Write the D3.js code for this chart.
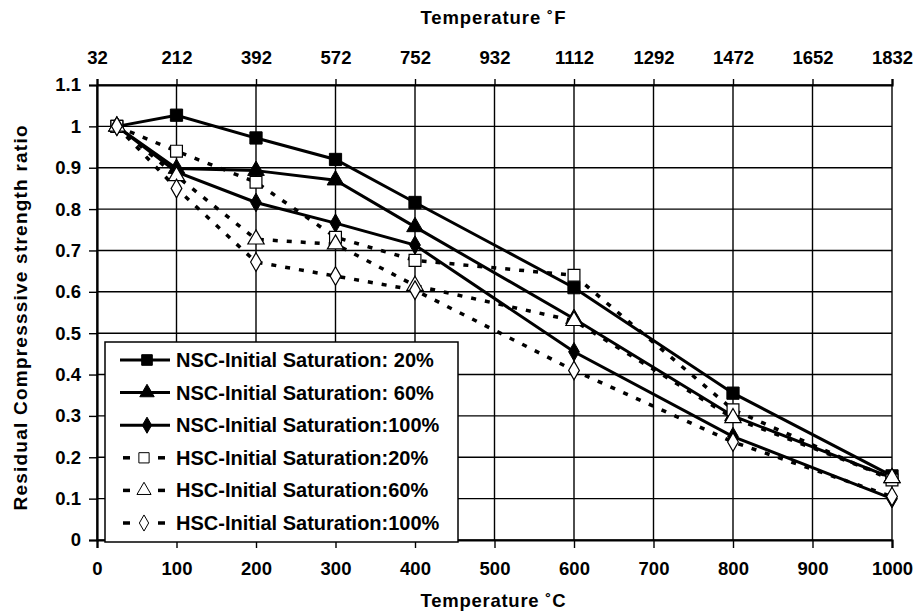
<html>
<head>
<title>Residual compressive strength</title>
<script src="https://d3js.org/d3.v7.min.js"></script>
<style>
  body { margin: 0; background: #fff; }
  text { font-family: "Liberation Sans", Arial, sans-serif; font-weight: bold; fill: #000; }
</style>
</head>
<body>
<div id="container"></div>
<script>
var temps = [25, 100, 200, 300, 400, 600, 800, 1000];
var nsc20  = [1.0, 1.027, 0.972, 0.92, 0.816, 0.61, 0.355, 0.155];
var nsc60  = [1.0, 0.898, 0.893, 0.87, 0.757, 0.535, 0.30, 0.15];
var nsc100 = [1.0, 0.89, 0.816, 0.766, 0.713, 0.455, 0.25, 0.10];
var hsc20  = [1.0, 0.94, 0.865, 0.732, 0.676, 0.64, 0.315, 0.145];
var hsc60  = [1.0, 0.88, 0.727, 0.715, 0.615, 0.53, 0.295, 0.15];
var hsc100 = [1.0, 0.85, 0.672, 0.638, 0.604, 0.41, 0.237, 0.105];

var seriesNames = ["NSC-Initial Saturation: 20%", "NSC-Initial Saturation: 60%", "NSC-Initial Saturation:100%",
                   "HSC-Initial Saturation:20%", "HSC-Initial Saturation:60%", "HSC-Initial Saturation:100%"];
var cTicks = [0, 100, 200, 300, 400, 500, 600, 700, 800, 900, 1000];
var fTicks = [32, 212, 392, 572, 752, 932, 1112, 1292, 1472, 1652, 1832];
var yTicks = [0, 0.1, 0.2, 0.3, 0.4, 0.5, 0.6, 0.7, 0.8, 0.9, 1, 1.1];

var width = 915, height = 612;
// plot box (note: "top" is a reserved window prop, so use mTop etc)
var mLeft = 97, mRight = 892, mTop = 85, mBottom = 540;

var series = [
  {name: seriesNames[0], values: nsc20,  shape: d3.symbolSquare,   filled: true,  size: 150},
  {name: seriesNames[1], values: nsc60,  shape: d3.symbolTriangle, filled: true,  size: 120},
  {name: seriesNames[2], values: nsc100, shape: d3.symbolDiamond,  filled: true,  size: 100},
  {name: seriesNames[3], values: hsc20,  shape: d3.symbolSquare,   filled: false, size: 140},
  {name: seriesNames[4], values: hsc60,  shape: d3.symbolTriangle, filled: false, size: 115},
  {name: seriesNames[5], values: hsc100, shape: d3.symbolDiamond,  filled: false, size: 100}
];

var svg = d3.select("#container").append("svg")
    .attr("width", width).attr("height", height);

var x = d3.scaleLinear().domain([0, 1000]).range([mLeft, mRight]);
var xf = d3.scaleLinear().domain([32, 1832]).range([mLeft, mRight]);
var y = d3.scaleLinear().domain([0, 1.1]).range([mBottom, mTop]);

// grid
var grid = svg.append("g");
grid.selectAll(".vg").data(cTicks).enter().append("line")
    .attr("x1", function(d) { return x(d); }).attr("x2", function(d) { return x(d); })
    .attr("y1", mTop).attr("y2", mBottom)
    .style("stroke", "#000").style("stroke-width", 1.4);
grid.selectAll(".hg").data(yTicks).enter().append("line")
    .attr("x1", mLeft).attr("x2", mRight)
    .attr("y1", function(d) { return y(d); }).attr("y2", function(d) { return y(d); })
    .style("stroke", "#000").style("stroke-width", 1.4);

// axes
var fmt = function(d) { return d3.format("")(+d.toFixed(1)); };
var xAxis = svg.append("g").attr("transform", "translate(0," + mBottom + ")")
    .call(d3.axisBottom(x).tickValues(cTicks).tickSize(8).tickPadding(14).tickFormat(d3.format("d")));
var xTop = svg.append("g").attr("transform", "translate(0," + mTop + ")")
    .call(d3.axisTop(xf).tickValues(fTicks).tickSize(6).tickPadding(15).tickFormat(d3.format("d")));
var yAxis = svg.append("g").attr("transform", "translate(" + mLeft + ",0)")
    .call(d3.axisLeft(y).tickValues(yTicks).tickSize(8).tickPadding(8).tickFormat(fmt));

[xAxis, xTop, yAxis].forEach(function(a) {
  a.select(".domain").style("stroke", "#000").style("stroke-width", 2.2);
  a.selectAll(".tick line").style("stroke", "#000").style("stroke-width", 1.4);
  a.selectAll("text").style("font-size", "18.5px").style("font-family", "'Liberation Sans', Arial, sans-serif")
    .style("font-weight", "bold").style("fill", "#000");
});

// titles
svg.append("text").attr("x", 493).attr("y", 24).attr("text-anchor", "middle")
    .style("font-size", "18.5px").attr("textLength", 145).text("Temperature \u02daF");
svg.append("text").attr("x", 493).attr("y", 607).attr("text-anchor", "middle")
    .style("font-size", "18.5px").attr("textLength", 145).text("Temperature \u02daC");
svg.append("text").attr("transform", "translate(27,318) rotate(-90)")
    .attr("text-anchor", "middle").style("font-size", "19px").attr("textLength", 385)
    .text("Residual Compresssive strength ratio");

// lines
var line = d3.line().x(function(d) { return x(d[0]); }).y(function(d) { return y(d[1]); });
var plot = svg.append("g");
series.forEach(function(s) {
  var pts = temps.map(function(t, i) { return [t, s.values[i]]; });
  plot.append("path").datum(pts).attr("d", line)
      .style("fill", "none").style("stroke", "#000")
      .style("stroke-width", s.filled ? 3 : 3.5)
      .style("stroke-dasharray", s.filled ? null : "5,9")
      .style("stroke-linecap", "butt");
});
series.forEach(function(s) {
  var pts = temps.map(function(t, i) { return [t, s.values[i]]; });
  plot.selectAll(null).data(pts).enter().append("path")
      .attr("transform", function(d) { return "translate(" + x(d[0]) + "," + y(d[1]) + ")"; })
      .attr("d", d3.symbol().type(s.shape).size(s.size))
      .style("fill", s.filled ? "#000" : "#fff")
      .style("stroke", "#000").style("stroke-width", s.filled ? 1 : 1.2);
});

// legend
var lg = svg.append("g");
lg.append("rect").attr("x", 105).attr("y", 342).attr("width", 353).attr("height", 200)
    .style("fill", "#fff").style("stroke", "#000").style("stroke-width", 1.5);
var items = lg.selectAll(".item").data(series).enter().append("g")
    .attr("transform", function(d, i) { return "translate(0," + (360 + i * 32.6) + ")"; });
items.each(function(s) {
  var g = d3.select(this);
  if (s.filled) {
    g.append("line").attr("x1", 120).attr("x2", 170).attr("y1", 0).attr("y2", 0)
        .style("stroke", "#000").style("stroke-width", 3);
  } else {
    g.append("line").attr("x1", 123).attr("x2", 130).attr("y1", 0).attr("y2", 0)
        .style("stroke", "#000").style("stroke-width", 3.5);
    g.append("line").attr("x1", 158).attr("x2", 165).attr("y1", 0).attr("y2", 0)
        .style("stroke", "#000").style("stroke-width", 3.5);
  }
  g.append("path").attr("transform", "translate(" + (s.filled ? 147 : 144) + ",0)")
      .attr("d", d3.symbol().type(s.shape).size(s.size * 0.75))
      .style("fill", s.filled ? "#000" : "#fff").style("stroke", "#000").style("stroke-width", 1);
  g.append("text").attr("x", 176).attr("y", 7).style("font-size", "20px").text(s.name);
});
</script>
</body>
</html>
